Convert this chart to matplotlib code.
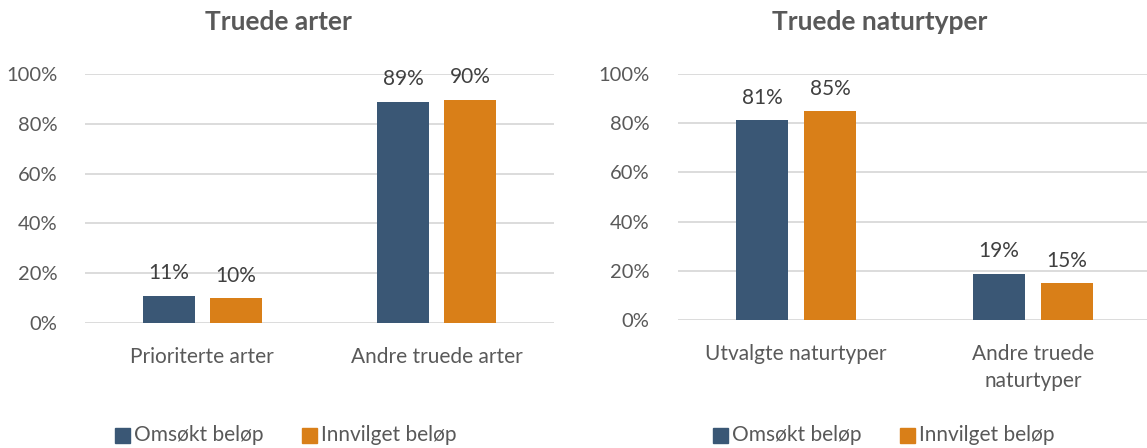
import matplotlib
matplotlib.use("Agg")
import matplotlib.pyplot as plt
import numpy as np
from matplotlib.patches import Rectangle

plt.rcParams['font.family'] = ['Lato', 'DejaVu Sans']

series_names = ["Omsøkt beløp", "Innvilget beløp"]
colors = ["#3A5775", "#D97F18"]

titles = ["Truede arter", "Truede naturtyper"]
cats_left = ["Prioriterte arter", "Andre truede arter"]
omsokt_left = [0.11, 0.888]
innvilget_left = [0.10, 0.896]
cats_right = ["Utvalgte naturtyper", "Andre truede\nnaturtyper"]
omsokt_right = [0.812, 0.188]
innvilget_right = [0.848, 0.15]
yticks = [0, 0.2, 0.4, 0.6, 0.8, 1.0]
ytick_labels = ["0%", "20%", "40%", "60%", "80%", "100%"]

W, H = 1147, 448
fig = plt.figure(figsize=(W / 100, H / 100), dpi=100)

def px_axes(x0, x1, y0, y1):
    return fig.add_axes([x0 / W, 1 - y1 / H, (x1 - x0) / W, (y1 - y0) / H])

panels = [
    (px_axes(85, 554, 74, 323), cats_left, omsokt_left, innvilget_left, titles[0], 278),
    (px_axes(677.5, 1151.5, 74, 320), cats_right, omsokt_right, innvilget_right, titles[1], 880),
]

text_color = "#595959"
bw = 0.222
off = 0.143
for ax, cats, s1, s2, title, tx in panels:
    x = np.arange(len(cats))
    for vals, dx, c in [(s1, -off, colors[0]), (s2, off, colors[1])]:
        bars = ax.bar(x + dx, vals, width=bw, color=c, zorder=3)
        for b, v in zip(bars, vals):
            ax.annotate(f"{round(v * 100):.0f}%", (b.get_x() + b.get_width() / 2, v),
                        xytext=(0, 9), textcoords="offset points", ha="center", va="bottom",
                        fontsize=15, color="#404040")
    ax.set_xlim(-0.5, len(cats) - 0.5)
    ax.set_ylim(0, 1.0)
    ax.set_yticks(yticks)
    ax.set_yticklabels(ytick_labels, fontsize=14.5)
    ax.set_xticks(x)
    ax.set_xticklabels(cats, linespacing=1.45, fontsize=15)
    ax.tick_params(axis='both', length=0, colors=text_color)
    ax.tick_params(axis='x', pad=17)
    ax.tick_params(axis='y', pad=20)
    ax.grid(axis='y', color="#D9D9D9", linewidth=1.3, zorder=0)
    ax.set_axisbelow(True)
    for s in ax.spines.values():
        s.set_visible(False)
    fig.text(tx / W, 1 - 22 / H, title, ha="center", va="center", fontsize=19,
             fontweight="bold", color=text_color)

# legends
def legend_at(x_sq1, x_sq2, y):
    for xs, name, c in [(x_sq1, series_names[0], colors[0]), (x_sq2, series_names[1], colors[1])]:
        fig.patches.append(Rectangle((xs / W, 1 - (y + 7.5) / H), 15 / W, 15 / H,
                                     transform=fig.transFigure, color=c, figure=fig))
        fig.text((xs + 19) / W, 1 - y / H, name, ha="left", va="center", fontsize=15,
                 color=text_color)

legend_at(115, 302, 435)
legend_at(713, 900, 435)

fig.savefig("out.png", dpi=100, facecolor="white")
